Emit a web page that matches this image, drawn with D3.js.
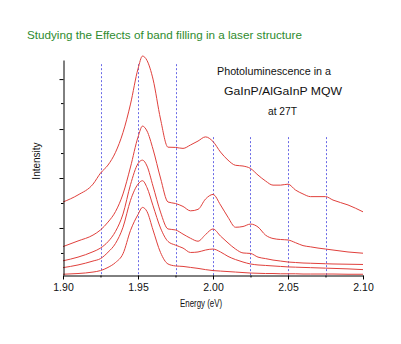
<!DOCTYPE html>
<html>
<head>
<meta charset="utf-8">
<script src="https://cdn.jsdelivr.net/npm/d3@7"></script>
<style>
body { margin: 0; background: #fff; }
svg { font-family: "Liberation Sans", Arial, sans-serif; }
.trace { fill: none; stroke: #e0403c; stroke-width: 1; }
.marker { stroke: #6a6ae6; stroke-width: 1; stroke-dasharray: 2,2; }
.axis path, .axis line { stroke: #000; }
</style>
</head>
<body>
<div id="plot"></div>
<script>
// photon energy (eV), shared by all traces
var energy = [1.900, 1.910, 1.920, 1.925, 1.930, 1.935, 1.940, 1.945, 1.950, 1.953,
              1.956, 1.960, 1.965, 1.970, 1.975, 1.980, 1.985, 1.990, 1.995, 2.000,
              2.005, 2.010, 2.015, 2.020, 2.025, 2.030, 2.035, 2.040, 2.045, 2.050,
              2.055, 2.060, 2.065, 2.070, 2.075, 2.080, 2.090, 2.100];

// PL intensity, arbitrary units, top trace first
var spectrum1 = [2.98, 3.27, 3.71, 4.16, 4.49, 5.01, 5.82, 6.98, 8.42, 8.94,
                 8.76, 8.00, 6.37, 5.22, 5.21, 5.17, 5.31, 5.47, 5.64, 5.45,
                 5.02, 4.69, 4.48, 4.45, 4.35, 4.08, 3.84, 3.67, 3.67, 3.71,
                 3.47, 3.31, 3.20, 3.20, 3.20, 3.06, 2.86, 2.58];
var spectrum2 = [1.16, 1.39, 1.63, 1.84, 2.16, 2.59, 3.31, 4.41, 5.63, 6.08,
                 5.88, 5.14, 3.96, 2.98, 2.92, 2.80, 2.62, 2.68, 3.10, 3.29,
                 2.86, 2.36, 1.95, 1.98, 2.08, 1.96, 1.63, 1.49, 1.45, 1.43,
                 1.32, 1.20, 1.15, 1.10, 1.06, 1.02, 0.94, 0.89];
var spectrum3 = [0.58, 0.73, 0.95, 1.10, 1.36, 1.78, 2.49, 3.69, 4.55, 4.69,
                 4.45, 3.63, 2.57, 1.88, 1.84, 1.67, 1.50, 1.38, 1.65, 1.88,
                 1.59, 1.31, 1.06, 0.90, 0.88, 0.73, 0.67, 0.61, 0.57, 0.53,
                 0.51, 0.49, 0.48, 0.47, 0.46, 0.45, 0.44, 0.43];
var spectrum4 = [0.30, 0.41, 0.57, 0.67, 0.93, 1.29, 1.95, 3.05, 3.71, 3.85,
                 3.57, 2.83, 1.92, 1.37, 1.22, 1.10, 0.92, 0.94, 1.02, 1.06,
                 0.94, 0.76, 0.63, 0.53, 0.45, 0.41, 0.39, 0.37, 0.35, 0.33,
                 0.32, 0.31, 0.30, 0.29, 0.28, 0.27, 0.25, 0.22];
var spectrum5 = [0.03, 0.06, 0.12, 0.18, 0.31, 0.51, 0.87, 1.82, 2.47, 2.76,
                 2.59, 1.84, 0.92, 0.45, 0.37, 0.35, 0.31, 0.27, 0.22, 0.18,
                 0.16, 0.14, 0.12, 0.10, 0.08, 0.07, 0.06, 0.06, 0.05, 0.05,
                 0.05, 0.04, 0.04, 0.04, 0.04, 0.04, 0.03, 0.03];

// dotted guide lines: energy and how high they reach
var markerE   = [1.925, 1.950, 1.975, 2.000, 2.025, 2.050, 2.075];
var markerTop = [8.61, 8.61, 8.61, 5.63, 5.63, 5.63, 5.63];

var xTicks = [1.90, 1.95, 2.00, 2.05, 2.10];
var xMinor = [1.925, 1.975, 2.025, 2.075];
var yTicks = [0.90, 1.92, 2.94, 3.96, 4.98, 5.96, 7.02, 8.00];

var title = "Studying the Effects of band filling in a laser structure";
var note = ["Photoluminescence in a", "GaInP/AlGaInP MQW", "at 27T"];

var width = 401, height = 344;
var plot = {left: 63, right: 363, top: 60, bottom: 275};

var x = d3.scaleLinear().domain([1.90, 2.10]).range([plot.left, plot.right]);
var y = d3.scaleLinear().domain([0, 8.78]).range([plot.bottom, plot.top]);

var svg = d3.select("#plot").append("svg")
    .attr("width", width)
    .attr("height", height);

svg.append("text")
    .attr("x", 27).attr("y", 39)
    .attr("fill", "#2e8b2e")
    .style("font-size", "11px")
    .attr("textLength", 275).attr("lengthAdjust", "spacingAndGlyphs")
    .text(title);

// guides under the traces
svg.selectAll(".marker")
    .data(markerE)
    .enter().append("line")
    .attr("class", "marker")
    .attr("x1", function (d) { return Math.round(x(d)) + 0.5; })
    .attr("x2", function (d) { return Math.round(x(d)) + 0.5; })
    .attr("y1", function (d, i) { return y(markerTop[i]); })
    .attr("y2", y(0));

var line = d3.line()
    .x(function (d, i) { return x(energy[i]); })
    .y(function (d) { return y(d); })
    .curve(d3.curveMonotoneX);

var spectra = [spectrum5, spectrum4, spectrum3, spectrum2, spectrum1];
svg.selectAll(".trace")
    .data(spectra)
    .enter().append("path")
    .attr("class", "trace")
    .attr("d", line);

// axes
var xAxis = svg.append("g")
    .attr("class", "axis")
    .attr("transform", "translate(0," + (plot.bottom + 0.5) + ")")
    .call(d3.axisBottom(x).tickValues(xTicks).tickFormat(d3.format(".2f"))
        .tickSize(4).tickSizeOuter(0));
xAxis.selectAll("text")
    .style("font-size", "10.5px")
    .style("font-family", "\"Liberation Sans\", Arial, sans-serif")
    .attr("fill", "#111")
    .attr("dy", "0.8em");

svg.append("g")
    .attr("class", "axis")
    .attr("transform", "translate(0," + (plot.bottom + 0.5) + ")")
    .call(d3.axisBottom(x).tickValues(xMinor).tickFormat("").tickSize(2).tickSizeOuter(0))
    .select(".domain").remove();

var yAxis = svg.append("g")
    .attr("class", "axis")
    .attr("transform", "translate(" + (plot.left + 0.5) + ",0)")
    .call(d3.axisLeft(y).tickValues(yTicks).tickFormat("").tickSize(4).tickSizeOuter(0));
yAxis.selectAll(".tick line")
    .attr("x2", function (d, i) { return i % 2 == 0 ? -2.5 : -4; });

svg.append("text")
    .attr("x", 201).attr("y", 307)
    .attr("text-anchor", "middle")
    .attr("fill", "#111")
    .style("font-size", "10px")
    .attr("textLength", 42).attr("lengthAdjust", "spacingAndGlyphs")
    .text("Energy (eV)");

svg.append("text")
    .attr("transform", "translate(40,161) rotate(-90)")
    .attr("text-anchor", "middle")
    .attr("fill", "#111")
    .style("font-size", "10px")
    .text("Intensity");

// annotation
var noteX = [217, 224, 268];
var noteW = [114, 118, 29];
svg.selectAll(".note")
    .data(note)
    .enter().append("text")
    .attr("class", "note")
    .attr("x", function (d, i) { return noteX[i]; })
    .attr("y", function (d, i) { return 75 + i * 20; })
    .attr("fill", "#111")
    .style("font-size", "10.5px")
    .attr("textLength", function (d, i) { return noteW[i]; })
    .attr("lengthAdjust", "spacingAndGlyphs")
    .text(function (d) { return d; });
</script>
</body>
</html>
